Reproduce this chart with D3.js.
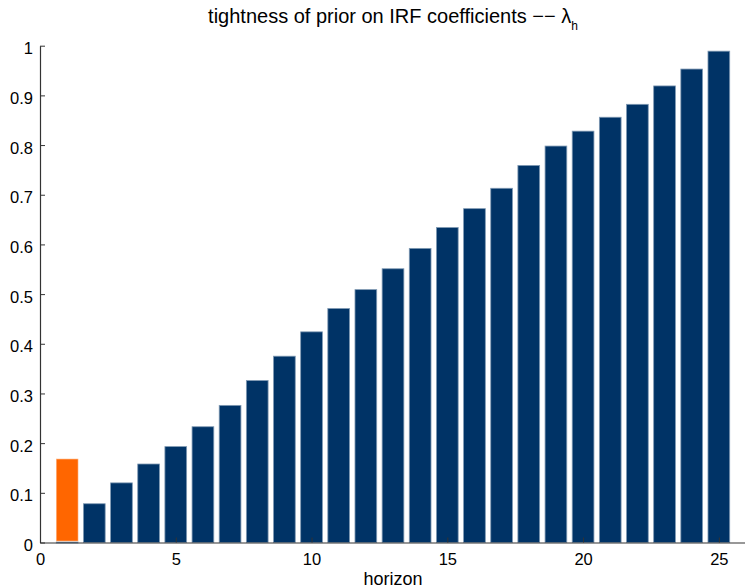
<!DOCTYPE html>
<html>
<head>
<meta charset="utf-8">
<script src="https://cdn.jsdelivr.net/npm/d3@7/dist/d3.min.js"></script>
<style>
  html, body { margin: 0; padding: 0; background: #fff; }
  svg { display: block; font-family: "Liberation Sans", Arial, sans-serif; }
</style>
</head>
<body>
<svg id="chart" width="745" height="588"></svg>
<script>
// ---- data ----
const horizons = d3.range(1, 26);
const lambdaValues = [0.0, 0.077, 0.119, 0.157, 0.192, 0.232, 0.275, 0.325, 0.374, 0.423,
                      0.470, 0.508, 0.550, 0.591, 0.633, 0.671, 0.712, 0.758, 0.797, 0.827,
                      0.855, 0.881, 0.918, 0.952, 0.988];
const highlightHorizon = [1];
const highlightValue = [0.168];
const xTicks = [0, 5, 10, 15, 20, 25];
const yTicks = [0, 0.1, 0.2, 0.3, 0.4, 0.5, 0.6, 0.7, 0.8, 0.9, 1];
const yTickLabels = ["0", "0.1", "0.2", "0.3", "0.4", "0.5", "0.6", "0.7", "0.8", "0.9", "1"];

// ---- layout ----
const svg = d3.select("#chart");
const mLeft = 40, mRight = 746, mTop = 45.7, mBottom = 542.5;
const x = d3.scaleLinear().domain([0, 26]).range([mLeft, mRight]);
const y = d3.scaleLinear().domain([0, 1]).range([mBottom, mTop]);
const barW = x(0.8) - x(0);

const navy = "#003366", orange = "#ff6600";

// bars
svg.append("g").selectAll("rect")
  .data(horizons.map((h, i) => ({h, v: lambdaValues[i]})))
  .join("rect")
  .attr("x", d => x(d.h) - barW / 2)
  .attr("width", barW)
  .attr("y", d => y(d.v) - 0.5)
  .attr("height", d => Math.max(1, y(0) - y(d.v) + 0.5))
  .attr("fill", navy)
  .attr("stroke", "#7f99b3")
  .attr("stroke-width", 0.8);

svg.append("g").selectAll("rect")
  .data(highlightHorizon.map((h, i) => ({h, v: highlightValue[i]})))
  .join("rect")
  .attr("x", d => x(d.h) - barW / 2)
  .attr("width", barW)
  .attr("y", d => y(d.v))
  .attr("height", d => y(0) - y(d.v) - 1.5)
  .attr("fill", orange)
  .attr("stroke", "#ffb380")
  .attr("stroke-width", 0.6);

// axes
const axisColor = "#333";
const yAxis = svg.append("g")
  .attr("transform", `translate(${mLeft},0)`)
  .call(d3.axisLeft(y).tickValues(yTicks).tickFormat((d, i) => yTickLabels[i])
        .tickSizeInner(-5).tickSizeOuter(0).tickPadding(7));
const xAxis = svg.append("g")
  .attr("transform", `translate(0,${mBottom})`)
  .call(d3.axisBottom(x).tickValues(xTicks).tickFormat(d3.format("d"))
        .tickSizeInner(-5).tickSizeOuter(0).tickPadding(10));
[yAxis, xAxis].forEach(g => {
  g.select(".domain").attr("stroke", axisColor).attr("stroke-width", 1.2);
  g.selectAll(".tick line").attr("stroke", axisColor).attr("stroke-width", 1);
  g.selectAll(".tick text").attr("fill", "#000")
    .style("font-size", "16.5px").style("font-family", "Liberation Sans, Arial, sans-serif");
});
yAxis.selectAll(".tick text").attr("dy", 0).attr("y", 8);
xAxis.selectAll(".tick text").attr("dy", 0).attr("y", 22.5);

// title
const title = svg.append("text")
  .attr("x", 393)
  .attr("y", 23)
  .attr("text-anchor", "middle")
  .style("font-size", "20px")
  .attr("fill", "#000");
title.append("tspan").text("tightness of prior on IRF coefficients −− λ");
title.append("tspan").attr("dy", 7).style("font-size", "12px").text("h");

// x label
svg.append("text")
  .attr("x", 393)
  .attr("y", 585)
  .attr("text-anchor", "middle")
  .style("font-size", "18px")
  .attr("fill", "#000")
  .text("horizon");
</script>
</body>
</html>
